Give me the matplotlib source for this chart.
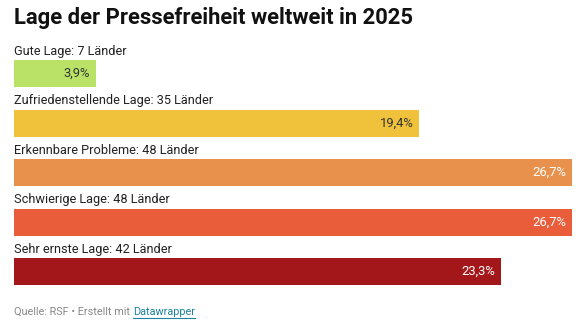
import matplotlib
matplotlib.use("Agg")
import matplotlib.pyplot as plt

categories = ["Gute Lage", "Zufriedenstellende Lage", "Erkennbare Probleme",
              "Schwierige Lage", "Sehr ernste Lage"]
countries = [7, 35, 48, 48, 42]
shares = [3.9, 19.4, 26.7, 26.7, 23.3]
colors = ["#b9e266", "#f0c23c", "#e8914d", "#ea5d3a", "#a3171b"]
value_text_colors = ["#333333", "#333333", "white", "white", "white"]

plt.rcParams["font.family"] = ["Roboto", "DejaVu Sans"]

W, H = 587, 322
fig = plt.figure(figsize=(W / 100, H / 100), dpi=100)

# Axes in pixel units vertically; horizontally in percent
left_px, right_px = 14, 572
ax = fig.add_axes([left_px / W, 0, (right_px - left_px) / W, 1])
ax.set_xlim(0, max(shares))
ax.set_ylim(H, 0)
ax.axis("off")

first_center = 73.5
step = 49.5
bar_h = 27
for i, (cat, n, v, c, tc) in enumerate(zip(categories, countries, shares, colors, value_text_colors)):
    yc = first_center + i * step
    ax.barh(yc, v, height=bar_h, color=c, left=0)
    ax.text(0, yc - bar_h / 2 - 9, f"{cat}: {n} Länder", ha="left", va="center",
            fontsize=9.2, color="#222222")
    ax.annotate(f"{v:.1f}%".replace(".", ","), xy=(v, yc), xytext=(-4, 0),
                textcoords="offset points", ha="right", va="center",
                fontsize=9.4, color=tc)

fig.text(left_px / W, 1 - 18 / H, "Lage der Pressefreiheit weltweit in 2025",
         ha="left", va="center", fontsize=15.8, fontweight="bold", color="#111111")

src = fig.text(left_px / W, 1 - 312 / H, "Quelle: RSF • Erstellt mit ",
               ha="left", va="center", fontsize=7.8, color="#888888")
fig.canvas.draw()
bb = src.get_window_extent()
link = fig.text(bb.x1 / W, 1 - 312 / H, "Datawrapper", ha="left", va="center",
                fontsize=7.8, color="#1d81a2")
fig.canvas.draw()
lb = link.get_window_extent()
fig.add_artist(plt.Line2D([lb.x0 / W, lb.x1 / W], [(lb.y0 - 0.5) / H, (lb.y0 - 0.5) / H],
                          color="#1d81a2", linewidth=0.8, transform=fig.transFigure))

fig.savefig("out.png", dpi=100)
